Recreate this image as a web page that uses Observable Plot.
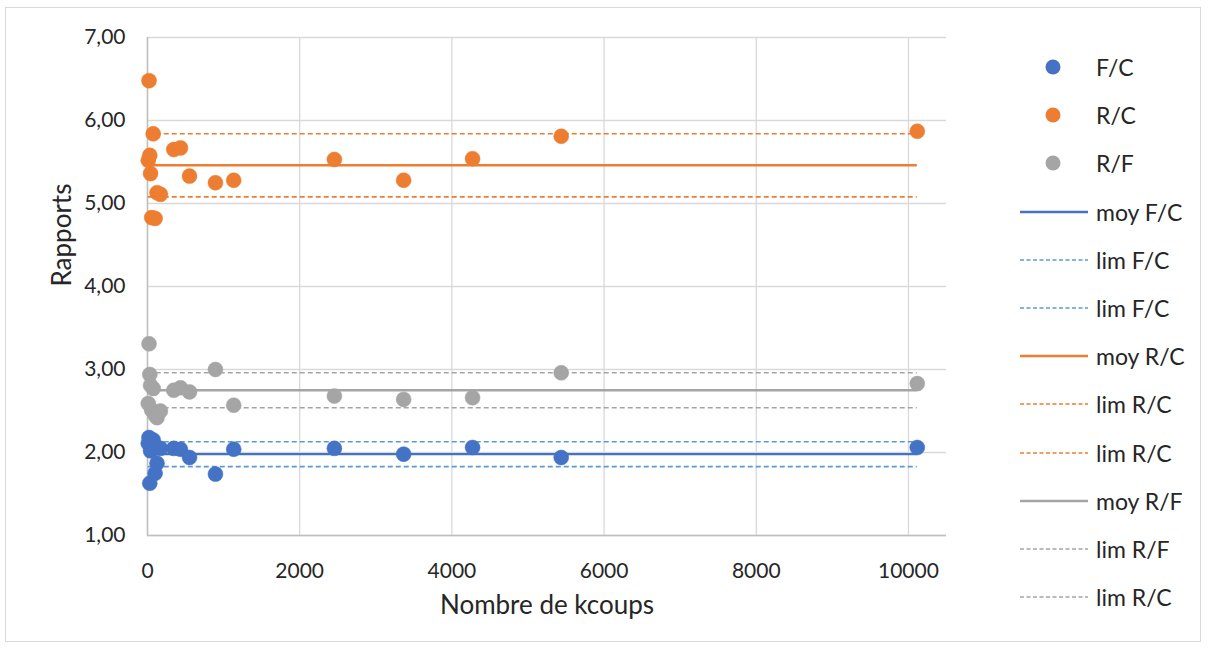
<!DOCTYPE html>
<html>
<head>
<meta charset="utf-8">
<script src="https://cdn.jsdelivr.net/npm/d3@7"></script>
<script src="https://cdn.jsdelivr.net/npm/@observablehq/plot@0.6"></script>
<style>
  html, body { margin: 0; padding: 0; background: #fff; }
  #wrap { position: relative; width: 1210px; height: 653px; font-family: Lato, "Open Sans", sans-serif; }
  #frame { position: absolute; left: 5px; top: 7px; width: 1196px; height: 635px; border: 1px solid #d9d9d9; box-sizing: border-box; }
  #chart { position: absolute; left: 0; top: 0; }
  #legend { position: absolute; left: 1015px; top: 44px; }
  .row { position: absolute; left: 0; height: 24px; width: 195px; display: flex; align-items: center; }
  .row svg { flex: none; }
  .row span { margin-left: 6px; font-size: 23px; color: #262626; white-space: nowrap; }
</style>
</head>
<body>
<div id="wrap">
  <div id="frame"></div>
  <div id="chart"></div>
  <div id="legend"></div>
</div>
<script>
// Data
const kcoups = [10, 20, 30, 40, 55, 75, 100, 125, 170, 345, 433, 552, 893, 1133, 2456, 3366, 4272, 5437, 10116];
const fc = [2.11, 2.18, 1.63, 2.02, 2.04, 2.15, 1.75, 1.87, 2.05, 2.05, 2.04, 1.94, 1.74, 2.04, 2.05, 1.98, 2.06, 1.94, 2.06];
const rc = [5.52, 6.48, 5.58, 5.36, 4.83, 5.84, 4.82, 5.13, 5.11, 5.65, 5.67, 5.33, 5.25, 5.28, 5.53, 5.28, 5.54, 5.81, 5.87];
const rf = [2.59, 3.31, 2.94, 2.81, 2.51, 2.77, 2.45, 2.42, 2.50, 2.75, 2.78, 2.73, 3.00, 2.57, 2.68, 2.64, 2.66, 2.96, 2.83];

const moyFC = 1.98, limFC = [2.13, 1.83];
const moyRC = 5.46, limRC = [5.84, 5.08];
const moyRF = 2.75, limRF = [2.96, 2.54];

const xTicks = [0, 2000, 4000, 6000, 8000, 10000];
const yTicks = [1, 2, 3, 4, 5, 6, 7];

const seriesNames = ["F/C", "R/C", "R/F", "moy F/C", "lim F/C", "lim F/C", "moy R/C", "lim R/C", "lim R/C", "moy R/F", "lim R/F", "lim R/C"];

const BLUE = "#4472C4", LBLUE = "#5B9BD5", ORANGE = "#ED7D31", GRAY = "#A5A5A5";

const pts = (ys) => kcoups.map((k, i) => ({x: k, y: ys[i]}));
const xmin = d3.min(kcoups), xmax = d3.max(kcoups);

const hline = (v, color, dashed) => Plot.ruleY([v], {
  x1: () => xmin, x2: () => xmax,
  stroke: color,
  strokeWidth: dashed ? 1.6 : 2.4,
  strokeDasharray: dashed ? "5,3" : null
});

const chart = Plot.plot({
  width: 1210,
  height: 653,
  marginLeft: 147,
  marginRight: 264,
  marginTop: 37,
  marginBottom: 118,
  style: {fontFamily: "Lato, 'Open Sans', sans-serif", background: "transparent", overflow: "visible"},
  x: {domain: [0, 10500]},
  y: {domain: [1, 7]},
  marks: [
    Plot.gridX(xTicks, {stroke: "#d9d9d9", strokeOpacity: 1, strokeWidth: 1.3}),
    Plot.gridY(yTicks, {stroke: "#d9d9d9", strokeOpacity: 1, strokeWidth: 1.3}),
    Plot.ruleX([0], {stroke: "#bfbfbf", strokeWidth: 1.5}),
    Plot.ruleY([1], {stroke: "#bfbfbf", strokeWidth: 1.5}),
    Plot.axisX({ticks: xTicks, tickSize: 0, tickPadding: 28, tickFormat: d => String(d), label: null, fontSize: 21, fill: "#262626"}),
    Plot.axisY({ticks: yTicks, tickSize: 0, tickPadding: 22, tickFormat: d => d.toFixed(2).replace(".", ","), label: null, fontSize: 21, fill: "#262626"}),
    Plot.text(["Rapports"], {frameAnchor: "left", dx: -85, rotate: -90, fontSize: 26, fill: "#262626"}),
    Plot.text(["Nombre de kcoups"], {frameAnchor: "bottom", dy: 78, fontSize: 26, fill: "#262626"}),
    // mean and limit lines
    hline(moyFC, BLUE, false),
    hline(limFC[0], LBLUE, true),
    hline(limFC[1], LBLUE, true),
    hline(moyRC, ORANGE, false),
    hline(limRC[0], ORANGE, true),
    hline(limRC[1], ORANGE, true),
    hline(moyRF, GRAY, false),
    hline(limRF[0], GRAY, true),
    hline(limRF[1], GRAY, true),
    // points
    Plot.dot(pts(fc), {x: "x", y: "y", r: 7.5, fill: BLUE, stroke: BLUE, strokeWidth: 0.5}),
    Plot.dot(pts(rc), {x: "x", y: "y", r: 7.5, fill: ORANGE, stroke: ORANGE, strokeWidth: 0.5}),
    Plot.dot(pts(rf), {x: "x", y: "y", r: 7.5, fill: GRAY, stroke: GRAY, strokeWidth: 0.5})
  ]
});
document.getElementById("chart").appendChild(chart);

// Legend
const legendSpecs = [
  {type: "dot", color: BLUE}, {type: "dot", color: ORANGE}, {type: "dot", color: GRAY},
  {type: "solid", color: BLUE}, {type: "dash", color: LBLUE}, {type: "dash", color: LBLUE},
  {type: "solid", color: ORANGE}, {type: "dash", color: ORANGE}, {type: "dash", color: ORANGE},
  {type: "solid", color: GRAY}, {type: "dash", color: GRAY}, {type: "dash", color: GRAY}
];
const legend = document.getElementById("legend");
seriesNames.forEach((name, i) => {
  const spec = legendSpecs[i];
  const row = document.createElement("div");
  row.className = "row";
  row.style.top = (i * 48.2 + 11) + "px";
  let sw;
  if (spec.type === "dot") {
    sw = `<svg width="75" height="24"><circle cx="38" cy="12" r="7.5" fill="${spec.color}"/></svg>`;
  } else if (spec.type === "solid") {
    sw = `<svg width="75" height="24"><line x1="5" x2="73" y1="12" y2="12" stroke="${spec.color}" stroke-width="2.4"/></svg>`;
  } else {
    sw = `<svg width="75" height="24"><line x1="5" x2="73" y1="12" y2="12" stroke="${spec.color}" stroke-width="1.6" stroke-dasharray="4,2.5"/></svg>`;
  }
  row.innerHTML = sw + `<span>${name}</span>`;
  legend.appendChild(row);
});
</script>
</body>
</html>
